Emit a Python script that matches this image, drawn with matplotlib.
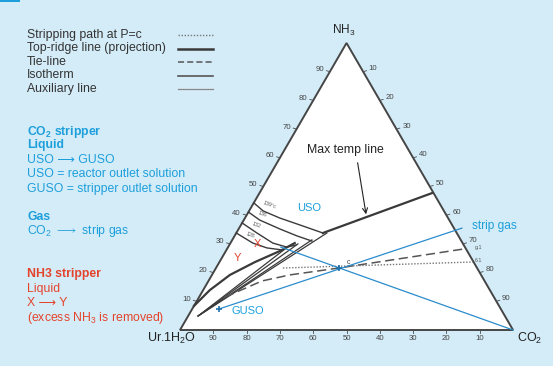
import numpy as np
import matplotlib
matplotlib.use('Agg')
import matplotlib.pyplot as plt
from matplotlib.lines import Line2D
from matplotlib.patches import Polygon, Rectangle

# ternary points are (NH3 %, CO2 %); Ur.1H2O is the rest
max_temp_line = [(47.7, 51.8), (33.8, 26.0)]
isotherms = [
    [(44.3, 0.0), (41.5, 4.2), (39.0, 10.5), (36.6, 17.7), (33.8, 26.0)],
    [(41.1, 0.0), (38.3, 4.8), (35.2, 12.4), (32.8, 18.7), (31.0, 24.1)],
    [(37.3, 0.0), (33.8, 6.2), (30.3, 12.7), (28.9, 17.6), (29.6, 20.0)],
    [(33.8, 0.0), (30.3, 6.7), (28.6, 11.8), (27.9, 16.7)],
]
isotherm_labels = ['139°c', '136', '132', '128']
ridge_line = [(8.4, 0.0), (13.9, 2.0), (19.2, 5.4), (23.7, 10.7), (27.5, 16.2), (30.3, 19.3)]
fan_start = (4.9, 3.0)
fan_ends = [(33.8, 27.2), (31.4, 23.9), (30.0, 20.4), (28.2, 17.4)]
tie_line = [(11.5, 7.8), (17.1, 16.1), (19.2, 23.4), (21.6, 36.9), (28.2, 70.9)]
stripping_path = [(21.6, 20.1), (23.7, 76.1)]
strip_gas_line = [(7.3, 8.0), (35.5, 66.9)]
co2_line = [(0.0, 100.0), (28.9, 15.8)]
point_c = (21.6, 36.9)
guso = (7.3, 8.0)
tick_values = [10, 20, 30, 40, 50, 60, 70, 80, 90]

bg = '#d4ecf8'
dark = '#3a3a3a'
blue_line = '#2b8ccc'
blue_text = '#1d9fdb'
red_text = '#e4432b'
arrow = '\u27f6'

plt.rcParams['font.family'] = ['Liberation Sans', 'DejaVu Sans']
plt.rcParams['mathtext.fontset'] = 'custom'
plt.rcParams['mathtext.rm'] = 'Liberation Sans'
plt.rcParams['mathtext.bf'] = 'Liberation Sans:bold'


def tern(pts):
    a = np.atleast_2d(np.array(pts, dtype=float))
    nh3, co2 = a[:, 0], a[:, 1]
    return co2 + nh3 / 2, nh3 * np.sqrt(3) / 2


fig = plt.figure(figsize=(5.53, 3.66), dpi=100, facecolor=bg)
ax = fig.add_axes([0, 0, 1, 1])
ax.set_facecolor(bg)
ax.set_xlim(-54.05, 112.0)
ax.set_ylim(-10.86, 99.58)
ax.axis('off')

# triangle
cx, cy = tern([(0, 0), (0, 100), (100, 0)])
ax.add_patch(Polygon(np.c_[cx, cy], closed=True, facecolor='white', edgecolor='#454545', lw=1.4, zorder=1))

# ticks and tick labels
for v in tick_values:
    # left edge: NH3 %
    x, y = tern([(v, 0)])
    ax.plot([x[0], x[0] - 1.0], [y[0], y[0] + 0.3], color='#4a4a4a', lw=0.6)
    ax.text(x[0] - 3.0, y[0] + 0.6, str(v), fontsize=5.6, color='#444', ha='center', va='center')
    # right edge: CO2 %
    x, y = tern([(100 - v, v)])
    ax.plot([x[0], x[0] + 1.0], [y[0], y[0] + 0.3], color='#4a4a4a', lw=0.6)
    ax.text(x[0] + 3.0, y[0] + 0.9, str(v), fontsize=5.6, color='#444', ha='center', va='center')
    # bottom: Ur.1H2O %
    x, y = tern([(0, 100 - v)])
    ax.plot([x[0], x[0]], [0, -0.8], color='#4a4a4a', lw=0.6)
    ax.text(x[0], -2.7, str(v), fontsize=5.6, color='#444', ha='center', va='center')

# corner labels
ax.text(49.2, 90.3, 'NH$_3$', fontsize=8.5, ha='center', va='center', color='#222')
ax.text(-2.5, -2.6, 'Ur.1H$_2$O', fontsize=9, ha='center', va='center', color='#222')
ax.text(101.2, -2.6, 'CO$_2$', fontsize=9, ha='left', va='center', color='#222')

# diagram lines
x, y = tern(max_temp_line)
ax.plot(x, y, color=dark, lw=1.6, zorder=3)
for iso, lab in zip(isotherms, isotherm_labels):
    x, y = tern(iso)
    ax.plot(x, y, color=dark, lw=1.0, zorder=3)
    ax.text(x[0] + 2.6, y[0] - 0.6, lab, fontsize=3.8, color='#555', ha='left', va='center', rotation=-20)
x, y = tern(ridge_line)
ax.plot(x, y, color=dark, lw=1.6, zorder=3)
for end in fan_ends:
    x, y = tern([fan_start, end])
    ax.plot(x, y, color=dark, lw=0.9, zorder=3)
x, y = tern(tie_line)
ax.plot(x, y, color='#555', lw=1.1, ls=(0, (6, 3)), zorder=3)
x, y = tern(stripping_path)
ax.plot(x, y, color='#777', lw=1.0, ls=(0, (1, 1.2)), zorder=3)
x, y = tern(strip_gas_line)
ax.plot(x, y, color=blue_line, lw=0.9, zorder=4)
x, y = tern(co2_line)
ax.plot(x, y, color=blue_line, lw=0.9, zorder=4)
for p in (point_c, guso):
    x, y = tern([p])
    ax.plot(x, y, marker='+', color='#1f6fa8', ms=5, mew=1.2, zorder=5)
x, y = tern([point_c])
ax.text(x[0] + 3.0, y[0] + 1.8, 'c', fontsize=5, color='#444', ha='center', va='center')

# small labels at right edge ends
x, y = tern([tie_line[-1]])
ax.text(x[0] + 4.6, y[0] + 0.6, 'g.1', fontsize=3.8, color='#555', ha='center', va='center')
x, y = tern([stripping_path[-1]])
ax.text(x[0] + 1.8, y[0] + 0.3, '6.1', fontsize=3.8, color='#555', ha='center', va='center')

# annotations in the diagram
x, y = tern(max_temp_line)
tip = (x[1] + 0.4 * (x[0] - x[1]), y[1] + 0.4 * (y[0] - y[1]))
ax.annotate('', xy=tip, xytext=(53.2, 51.3),
            arrowprops=dict(arrowstyle='->', color='#222', lw=0.8, mutation_scale=9), zorder=6)
ax.text(49.8, 54.3, 'Max temp line', fontsize=8.8, ha='center', va='center', color='#222')
ax.text(38.7, 36.9, 'USO', fontsize=8, ha='center', va='center', color=blue_text)
ax.text(20.4, 5.7, 'GUSO', fontsize=8, ha='center', va='center', color=blue_text)
ax.text(87.7, 31.4, 'strip gas', fontsize=8.6, ha='left', va='center', color=blue_text)
ax.text(23.4, 26.0, 'X', fontsize=8, ha='center', va='center', color=red_text)
ax.text(17.1, 21.7, 'Y', fontsize=8, ha='center', va='center', color=red_text)

# legend block
legend_items = [
    ('Stripping path at P=c', dict(color='#777', lw=1.0, ls=(0, (1, 1.2)))),
    ('Top-ridge line (projection)', dict(color=dark, lw=1.8)),
    ('Tie-line', dict(color='#555', lw=1.1, ls=(0, (4, 2)))),
    ('Isotherm', dict(color='#555', lw=1.2)),
    ('Auxiliary line', dict(color='#888', lw=0.9)),
]
W, H = 553, 366
for i, (lab, style) in enumerate(legend_items):
    ypx = 35 + i * 13.5
    fig.text(27 / W, 1 - ypx / H, lab, fontsize=8.8, color='#333', va='center', ha='left')
    fig.add_artist(Line2D([178 / W, 213 / W], [1 - ypx / H] * 2, transform=fig.transFigure, **style))

# blue text block
blue_lines = [
    (132, r'$\mathbf{CO_2}$ stripper', True),
    (145, 'Liquid', True),
    (160, 'USO ' + arrow + ' GUSO', False),
    (174, 'USO = reactor outlet solution', False),
    (189, 'GUSO = stripper outlet solution', False),
    (217, 'Gas', True),
    (231, r'CO$_2$ $\longrightarrow$ strip gas', False),
]
for ypx, lab, bold in blue_lines:
    fig.text(27 / W, 1 - ypx / H, lab, fontsize=8.8, color=blue_text, va='center', ha='left',
             fontweight='bold' if bold else 'normal')

red_lines = [
    (274, 'NH3 stripper', True),
    (289, 'Liquid', False),
    (303, 'X ' + arrow + ' Y', False),
    (318, '(excess NH$_3$ is removed)', False),
]
for ypx, lab, bold in red_lines:
    fig.text(27 / W, 1 - ypx / H, lab, fontsize=8.8, color=red_text, va='center', ha='left',
             fontweight='bold' if bold else 'normal')

# small blue bar in the top left corner
fig.add_artist(Rectangle((0, 1 - 2 / H), 20 / W, 2 / H, transform=fig.transFigure, color=blue_text, lw=0))

fig.savefig('out.png', dpi=100, facecolor=bg)
